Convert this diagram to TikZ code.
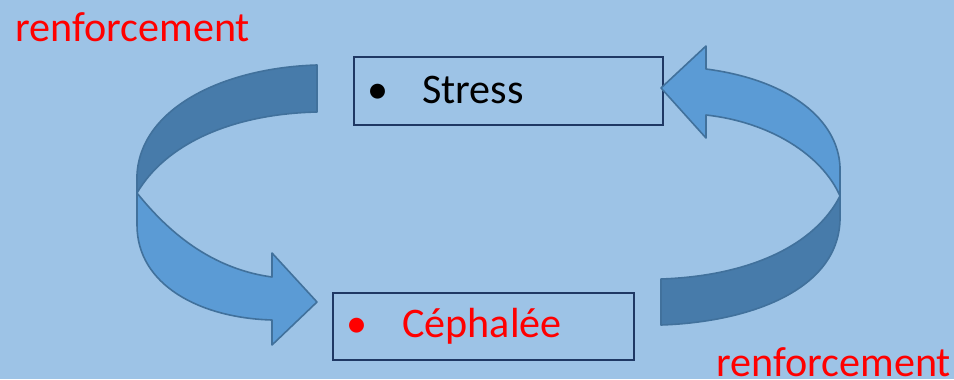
\documentclass[tikz,border=0pt]{standalone}
\usepackage{fontspec}
\setmainfont{Carlito}
\definecolor{bg}{HTML}{9DC3E6}
\definecolor{arrowlight}{HTML}{5B9BD5}
\definecolor{arrowdark}{HTML}{477BAA}
\definecolor{arrowline}{HTML}{41719C}
\definecolor{boxline}{HTML}{1F3864}
\begin{document}
\begin{tikzpicture}[x=0.75pt,y=-0.75pt,
  lbl/.style={font=\fontsize{31.6}{37}\selectfont, inner sep=0pt, anchor=base west},
  bul/.style={font=\fontsize{31.6}{37}\selectfont, inner sep=0pt, anchor=base},
  box/.style={draw=boxline, line width=1.5pt, inner sep=0pt, anchor=north west},
  ribbon/.style={draw=arrowline, line width=1.2pt, line join=round}]
\fill[bg] (0,0) rectangle (954,379);
\useasboundingbox (0,0) rectangle (954,379);

% boxes
\node[box, minimum width=231.75pt, minimum height=51pt] (stress) at (353,56) {};
\node[box, minimum width=225.75pt, minimum height=50.25pt] (ceph) at (332,292) {};

% texts
\node[bul] (b1) at (378,103) {•};
\node[lbl] (t1) at (422,103) {Stress};
\node[bul, text=red] (b2) at (357,337) {•};
\node[lbl, text=red] (t2) at (402,337) {Céphalée};
\node[lbl, text=red] (r1) at (15,41) {renforcement};
\node[lbl, text=red] (r2) at (716,376) {renforcement};

% left ribbon arrow
\filldraw[ribbon, fill=arrowdark] (317,65) .. controls (220,68) and (140,110) .. (137,175)
  -- (137,193) .. controls (165,145) and (230,114) .. (317,112) -- cycle;
\filldraw[ribbon, fill=arrowlight] (137,193) .. controls (162,224) and (205,268) .. (272,277)
  -- (272,253) -- (317,302) -- (272,345) -- (272,320)
  .. controls (200,318) and (137,285) .. (137,225) -- cycle;

% right ribbon arrow
\filldraw[ribbon, fill=arrowlight] (661,88) -- (706,46) -- (706,69)
  .. controls (790,80) and (838,120) .. (840,167) -- (840,196)
  .. controls (822,155) and (770,122) .. (706,115) -- (706,138) -- cycle;
\filldraw[ribbon, fill=arrowdark] (840,196) -- (840,220)
  .. controls (838,290) and (750,322) .. (661,325) -- (661,279)
  .. controls (750,276) and (815,245) .. (840,196) -- cycle;
\end{tikzpicture}
\end{document}
